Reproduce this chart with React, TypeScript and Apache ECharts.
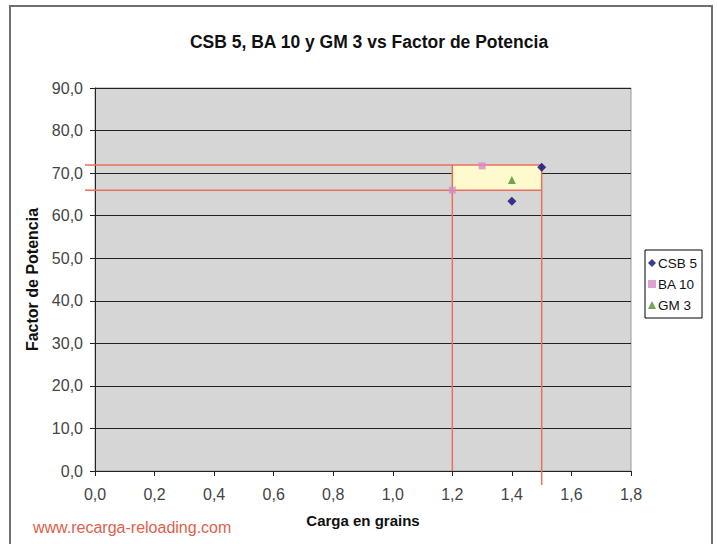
import React, { useEffect, useRef } from "react";
import * as echarts from "echarts";

const titleText = "CSB 5, BA 10 y GM 3 vs Factor de Potencia";
const xAxisName = "Carga en grains";
const yAxisName = "Factor de Potencia";
const watermark = "www.recarga-reloading.com";

const seriesNames = ["CSB 5", "BA 10", "GM 3"];
const csb5: number[][] = [
  [1.4, 63.4],
  [1.5, 71.4],
];
const ba10: number[][] = [
  [1.2, 66.0],
  [1.3, 71.7],
];
const gm3: number[][] = [[1.4, 68.4]];

// highlighted range box
const boxX = [1.2, 1.5];
const boxY = [66.0, 71.9];

const fmt = (v: number) => v.toFixed(1).replace(".", ",");

export default function App() {
  const ref = useRef<HTMLDivElement>(null);
  useEffect(() => {
    if (!ref.current) return;
    const chart = echarts.init(ref.current, undefined, { renderer: "svg" });
    const red = "#E8705E";
    const font = "'Liberation Sans', Arial, sans-serif";
    chart.setOption({
      animation: false,
      backgroundColor: "#ffffff",
      title: {
        text: titleText,
        left: 364,
        top: 28,
        textAlign: "center",
        textStyle: { fontFamily: font, fontSize: 17.5, fontWeight: "bold", color: "#111" },
      },
      legend: {
        orient: "vertical",
        left: 645,
        top: 250,
        data: seriesNames,
        itemWidth: 8,
        itemHeight: 8,
        itemGap: 7,
        padding: [6, 5, 6, 3],
        borderColor: "#000",
        borderWidth: 1,
        textStyle: { fontFamily: font, fontSize: 13.5, lineHeight: 13, color: "#111", padding: [0, 0, 0, -3] },
      },
      grid: { left: 95, right: 86, top: 88, bottom: 73 },
      xAxis: {
        type: "value",
        min: 0,
        max: 1.8,
        interval: 0.2,
        name: xAxisName,
        nameLocation: "middle",
        nameGap: 42,
        nameTextStyle: { fontFamily: font, fontSize: 15, fontWeight: "bold", color: "#111" },
        axisLine: { show: true, onZero: false, lineStyle: { color: "#222", width: 1 } },
        axisTick: { show: true, length: 5, lineStyle: { color: "#222" } },
        axisLabel: { formatter: fmt, fontFamily: font, fontSize: 16, color: "#444", margin: 15 },
        splitLine: { show: false },
      },
      yAxis: {
        type: "value",
        min: 0,
        max: 90,
        interval: 10,
        name: yAxisName,
        nameLocation: "middle",
        nameGap: 50,
        nameTextStyle: { fontFamily: font, fontSize: 16, fontWeight: "bold", color: "#111" },
        axisLine: { show: true, lineStyle: { color: "#222", width: 1 } },
        axisTick: { show: true, length: 5, lineStyle: { color: "#222" } },
        axisLabel: { formatter: fmt, fontFamily: font, fontSize: 16, color: "#444", margin: 12 },
        splitLine: { show: true, lineStyle: { color: "#222", width: 1 } },
        splitArea: { show: false },
      },
      series: [
        {
          type: "custom",
          silent: true,
          clip: false,
          z: 1,
          data: [[boxX[0], boxY[0], boxX[1], boxY[1]]],
          renderItem: (params: any, api: any) => {
            const p0 = api.coord([api.value(0), api.value(3)]);
            const p1 = api.coord([api.value(2), api.value(1)]);
            const base = api.coord([api.value(0), 0]);
            const ls = { stroke: red, lineWidth: 1.5 };
            return {
              type: "group",
              children: [
                {
                  type: "rect",
                  shape: { x: p0[0], y: p0[1], width: p1[0] - p0[0], height: p1[1] - p0[1] },
                  style: { fill: "#FFFACD", stroke: "none" },
                },
                { type: "line", shape: { x1: 85, y1: p0[1], x2: p1[0], y2: p0[1] }, style: ls },
                { type: "line", shape: { x1: 85, y1: p1[1], x2: p1[0], y2: p1[1] }, style: ls },
                { type: "line", shape: { x1: p0[0], y1: p0[1], x2: p0[0], y2: base[1] }, style: ls },
                { type: "line", shape: { x1: p1[0], y1: p0[1], x2: p1[0], y2: base[1] + 14 }, style: ls },
              ],
            };
          },
        },
        {
          name: seriesNames[0],
          type: "scatter",
          data: csb5,
          symbol: "diamond",
          symbolSize: 9,
          itemStyle: { color: "#0A0A7A" },
          z: 5,
        },
        {
          name: seriesNames[1],
          type: "scatter",
          data: ba10,
          symbol: "rect",
          symbolSize: 7,
          itemStyle: { color: "#D58BC8" },
          z: 5,
        },
        {
          name: seriesNames[2],
          type: "scatter",
          data: gm3,
          symbol: "triangle",
          symbolSize: 8,
          itemStyle: { color: "#4E8F2A" },
          z: 5,
        },
      ],
    });
    const tl = chart.convertToPixel({ gridIndex: 0 }, [0, 90]) as number[];
    const br = chart.convertToPixel({ gridIndex: 0 }, [1.8, 0]) as number[];
    chart.setOption({
      graphic: [
        {
          type: "rect",
          shape: { x: 10, y: 6, width: 702, height: 540 },
          style: { fill: "none", stroke: "#707070", lineWidth: 2 },
          silent: true,
        },
        {
          type: "text",
          left: 33,
          top: 519,
          style: { text: watermark, fill: "#E0604A", fontSize: 16, fontFamily: font },
        },
        {
          type: "rect",
          z: -10,
          shape: { x: tl[0], y: tl[1], width: br[0] - tl[0], height: br[1] - tl[1] },
          style: { fill: "#D6D6D6", stroke: "#9A9A9A", lineWidth: 1 },
          silent: true,
        },
      ],
    });
    return () => chart.dispose();
  }, []);
  return (
    <div
      ref={ref}
      style={{ position: "absolute", left: 0, top: 0, width: 717, height: 544 }}
    />
  );
}
